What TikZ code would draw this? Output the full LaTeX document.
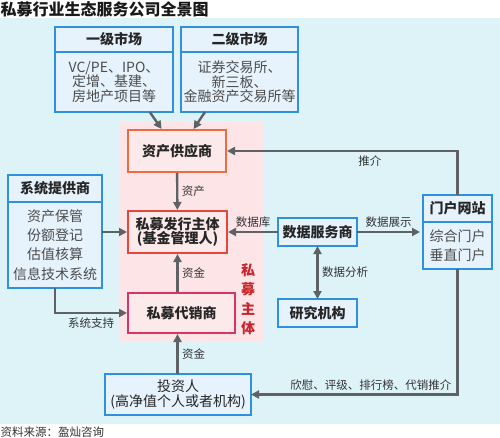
\documentclass[tikz,border=0pt]{standalone}
\usepackage{fontspec}
\setmainfont{Noto Sans CJK SC}
\usetikzlibrary{positioning,arrows.meta}

\definecolor{bgblue}{HTML}{DDF3F8}
\definecolor{bgpink}{HTML}{FCE4E7}
\definecolor{boxblue}{HTML}{2E90DF}
\definecolor{boxfill}{HTML}{E6F3FC}
\definecolor{pinkfill}{HTML}{FCE9EA}
\definecolor{gongred}{HTML}{EE6A40}
\definecolor{fared}{HTML}{E5473D}
\definecolor{daired}{HTML}{D8336B}
\definecolor{arrowgray}{HTML}{5E6265}
\definecolor{textgray}{HTML}{333333}
\definecolor{zhutired}{HTML}{C9252C}

\begin{document}
\begin{tikzpicture}[x=1pt, y=-1pt,
    >={Triangle[length=8pt,width=8pt]},
    head/.style={draw=boxblue, fill=boxfill, line width=2pt, outer sep=0pt, inner sep=0pt,
      text=black!85, font=\bfseries\fontsize{14}{16}\selectfont},
    body/.style={draw=boxblue, fill=boxfill, line width=2pt, outer sep=0pt, inner sep=0pt,
      align=center, text=black!70, font=\fontsize{14}{14.5}\selectfont},
    zhuti/.style={fill=pinkfill, line width=2pt, inner sep=0pt, align=center,
      text=black!85, font=\bfseries\fontsize{14}{13}\selectfont},
    conn/.style={draw=arrowgray, line width=2.4pt},
    lbl/.style={text=textgray, font=\fontsize{11.5}{13}\selectfont}]

  \useasboundingbox (0,0) rectangle (500,438);
  \fill [bgblue] (0,18) rectangle (500,424);
  \fill [bgpink] (120,122) rectangle (263,341);

  \node [anchor=west, inner sep=0pt, text=black!90, font=\bfseries\fontsize{16}{18}\selectfont] (title) at (0.5,9) {私募行业生态服务公司全景图};
  \node [anchor=west, inner sep=0pt, lbl] (source) at (0.5,432) {资料来源：盈灿咨询};

  % markets
  \node [head, minimum width=118pt, minimum height=25pt] (yiji) at (114,39.5) {一级市场};
  \node [body, minimum width=118pt, minimum height=60pt, below=0pt of yiji] (yijibody) {VC/PE、IPO、\\定增、基建、\\房地产项目等};
  \node [head, minimum width=117pt, minimum height=25pt] (erji) at (239.5,39.5) {二级市场};
  \node [body, minimum width=117pt, minimum height=60pt, below=0pt of erji] (erjibody) {证券交易所、\\新三板、\\金融资产交易所等};

  % private fund side
  \node [zhuti, draw=gongred, minimum width=98pt, minimum height=42pt] (gong) at (177,151) {资产供应商};
  \node [zhuti, draw=fared, minimum width=99pt, minimum height=42pt] (fa) at (177.5,232) {私募发行主体\\(基金管理人)};
  \node [zhuti, draw=daired, minimum width=107pt, minimum height=40pt] (daixiao) at (181.5,313) {私募代销商};
  \node [align=center, text=zhutired, font=\bfseries\fontsize{14}{19.5}\selectfont] (zhutilabel) at (248,299) {私\\募\\主\\体};

  % service providers
  \node [head, minimum width=94pt, minimum height=27pt] (xitong) at (55,188.5) {系统提供商};
  \node [body, font=\fontsize{14}{19.3}\selectfont, minimum width=94pt, minimum height=86pt, below=0pt of xitong] (xitongbody) {资产保管\\份额登记\\估值核算\\信息技术系统};
  \node [head, minimum width=79pt, minimum height=28pt] (shuju) at (317.5,232) {数据服务商};
  \node [head, minimum width=79pt, minimum height=28pt] (yanjiu) at (317.5,313) {研究机构};
  \node [head, minimum width=69pt, minimum height=27pt] (menhu) at (457.5,208.5) {门户网站};
  \node [body, font=\fontsize{14}{19}\selectfont, minimum width=69pt, minimum height=47pt, below=0pt of menhu] (menhubody) {综合门户\\垂直门户};
  \node [body, text=black!85, font=\fontsize{14}{15}\selectfont, minimum width=146pt, minimum height=41pt] (touzi) at (178,394.5) {投资人\\(高净值个人或者机构)};

  % connectors
  \draw [conn, ->] (yijibody.-40) -- (gong.125);
  \draw [conn, ->] (erjibody.-139) -- (gong.53);
  \draw [conn, ->] (gong) -- (fa) node [midway, right, lbl] {资产};
  \draw [conn, ->] (daixiao.north -| fa.south) -- (fa.south) node [midway, right, lbl] {资金};
  \draw [conn, ->] (touzi.north -| fa.south) -- (daixiao.south -| fa.south) node [midway, right, lbl] {资金};
  \draw [conn, ->] (xitongbody.east |- fa) -- (fa);
  \draw [conn, ->] (xitongbody.south) |- (daixiao) node [pos=0.75, below, lbl] {系统支持};
  \draw [conn, ->] (shuju) -- (fa) node [midway, above, lbl] {数据库};
  \draw [conn, ->] (shuju) -- ([xshift=-3pt]shuju -| menhubody.west) node [midway, above, lbl] {数据展示};
  \draw [conn, <->] (shuju) -- (yanjiu) node [midway, right, lbl] {数据分析};
  \draw [conn, ->] (menhu.north) |- (gong) node [pos=0.69, below, lbl] {推介};
  \draw [conn, ->] (menhubody.south) |- (touzi) node [pos=0.71, above, lbl] {欣慰、评级、排行榜、代销推介};
\end{tikzpicture}
\end{document}
